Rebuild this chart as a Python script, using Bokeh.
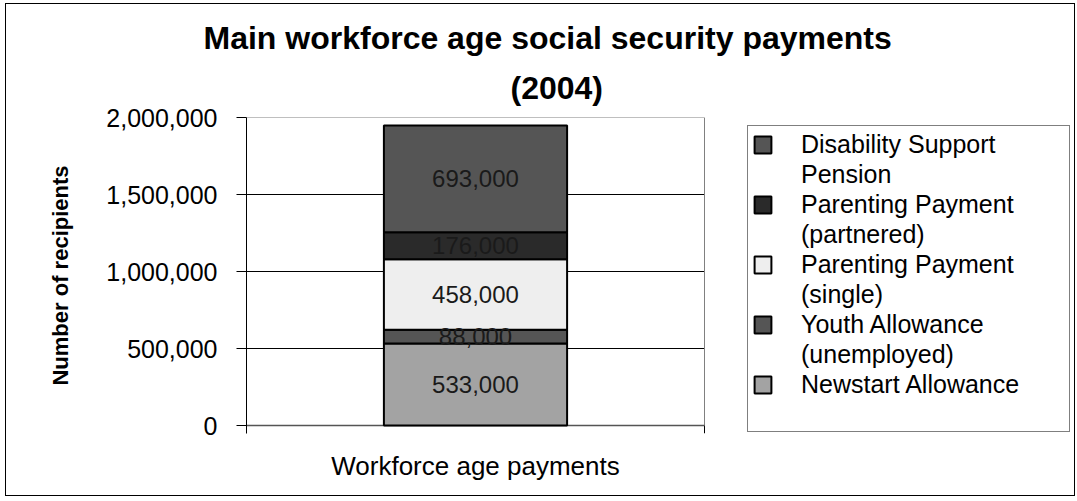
import numpy as np
from bokeh.plotting import figure
from bokeh.models import (ColumnDataSource, Range1d, FixedTicker,
                          NumeralTickFormatter, Legend, LegendItem, Title)
from bokeh.core.properties import value
from bokeh.embed import file_html
from bokeh.resources import INLINE

# ---- data ----
categories = ["Workforce age payments"]
series = ["Newstart Allowance", "Youth Allowance (unemployed)",
          "Parenting Payment (single)", "Parenting Payment (partnered)",
          "Disability Support Pension"]
values = [533000, 88000, 458000, 176000, 693000]
colors = ["#a3a3a3", "#555555", "#eeeeee", "#2a2a2a", "#555555"]
legend_lines = [["Newstart Allowance"],
                ["Youth Allowance", "(unemployed)"],
                ["Parenting Payment", "(single)"],
                ["Parenting Payment", "(partnered)"],
                ["Disability Support", "Pension"]]
y_ticks = [0, 500000, 1000000, 1500000, 2000000]
title_lines = ["Main workforce age social security payments", "(2004)"]
y_label = "Number of recipients"

FONT = "Liberation Sans"

# ---- layout (pixels) ----
W, H = 1070, 493
LEFT, RIGHT, TOP = 240, 2, 113
PLOT_W, PLOT_H, BELOW_PAD = 458, 308, 8      # plot area and tick overhang
FRAME_W = W - LEFT - RIGHT
BOTTOM = H - TOP - PLOT_H - BELOW_PAD

y_max = y_ticks[-1]
y_pad = y_max * BELOW_PAD / PLOT_H
x_end = len(categories) * FRAME_W / PLOT_W

p = figure(width=W, height=H,
           x_range=Range1d(0, x_end),
           y_range=Range1d(-y_pad, y_max),
           output_backend="svg", toolbar_location=None, title=None,
           min_border_left=LEFT, min_border_right=RIGHT,
           min_border_top=TOP, min_border_bottom=BOTTOM,
           background_fill_color="white", border_fill_color="white",
           styles={"border": "1px solid black", "margin-left": "5px",
                   "margin-top": "3px"})
p.outline_line_color = None
p.xgrid.visible = False
p.ygrid.visible = False

n_cat = len(categories)
xs = [i + 0.5 for i in range(n_cat)]

# plot-area gridlines and edges
grid_vals = y_ticks[1:-1]
p.segment(x0=[0] * len(grid_vals), y0=grid_vals, x1=[n_cat] * len(grid_vals),
          y1=grid_vals, line_color="black", line_width=1)
p.segment(x0=[0], y0=[y_max], x1=[n_cat], y1=[y_max],
          line_color="#808080", line_width=1)
p.segment(x0=[n_cat], y0=[0], x1=[n_cat], y1=[y_max],
          line_color="#808080", line_width=1)
p.segment(x0=[n_cat], y0=[-y_pad], x1=[n_cat], y1=[0],
          line_color="black", line_width=1)
p.segment(x0=[0], y0=[0], x1=[n_cat], y1=[0],
          line_color="#555555", line_width=1.5)

data = {"x": xs}
for s, v in zip(series, values):
    data[s] = [v]
source = ColumnDataSource(data)

renderers = p.vbar_stack(series, x="x", width=0.4, fill_color=colors,
                         line_color="black", line_width=2, source=source)

# segment value labels
vals = np.array(values, dtype=float)
bottoms = np.concatenate([[0.0], np.cumsum(vals)[:-1]])
centers = bottoms + vals / 2
p.text(x=[xs[0]] * len(values), y=list(centers),
       text=[f"{v:,}" for v in values],
       text_align="center", text_baseline="middle",
       text_font=value(FONT), text_font_size="24px", text_color="#1a1a1a")

# y axis
p.yaxis.ticker = FixedTicker(ticks=y_ticks)
p.yaxis.formatter = NumeralTickFormatter(format="0,0")
p.yaxis.axis_line_color = "black"
p.yaxis.major_tick_line_color = "black"
p.yaxis.major_tick_out = 10
p.yaxis.major_tick_in = 0
p.yaxis.minor_tick_line_color = None
p.yaxis.major_label_standoff = 19
p.yaxis.major_label_text_font = FONT
p.yaxis.major_label_text_font_size = "25px"
p.yaxis.major_label_text_color = "black"
p.yaxis.axis_label = y_label
p.yaxis.axis_label_text_font = FONT
p.yaxis.axis_label_text_font_style = "bold"
p.yaxis.axis_label_text_font_size = "22px"
p.yaxis.axis_label_text_color = "black"
p.yaxis.axis_label_standoff = 30

# x axis: category name under the bar
p.xaxis.ticker = FixedTicker(ticks=xs)
p.xaxis.major_label_overrides = {x: c for x, c in zip(xs, categories)}
p.xaxis.axis_line_color = None
p.xaxis.major_tick_line_color = None
p.xaxis.minor_tick_line_color = None
p.xaxis.major_label_standoff = 11
p.xaxis.major_label_text_font = FONT
p.xaxis.major_label_text_font_size = "26px"
p.xaxis.major_label_text_color = "black"

# title: two lines, nearest-to-frame added first
t2 = Title(text=title_lines[1], align="left", offset=264, standoff=24,
           text_font=FONT, text_font_style="bold", text_font_size="32px",
           text_color="black")
t1 = Title(text=title_lines[0], align="left", offset=-43, standoff=0,
           text_font=FONT, text_font_style="bold", text_font_size="32px",
           text_color="black")
p.add_layout(t2, "above")
p.add_layout(t1, "above")

# legend (top item = last stacked series)
blank = p.vbar(x=[], top=[], width=0.4, fill_alpha=0, line_alpha=0)
items = []
for r, lines in zip(reversed(renderers), reversed(legend_lines)):
    items.append(LegendItem(label=lines[0], renderers=[r]))
    for extra in lines[1:]:
        items.append(LegendItem(label=extra, renderers=[blank]))
items.append(LegendItem(label=" ", renderers=[blank]))

legend = Legend(items=items, location=(PLOT_W + 43, 1),
                padding=4, spacing=1, margin=0,
                glyph_width=21, glyph_height=21,
                label_standoff=28, label_width=264, label_height=27,
                label_text_font=FONT, label_text_font_size="25px",
                label_text_color="black",
                border_line_color="black", border_line_width=1,
                background_fill_color="white", background_fill_alpha=1.0)
p.add_layout(legend)

open("out.html", "w").write(file_html(p, INLINE))
